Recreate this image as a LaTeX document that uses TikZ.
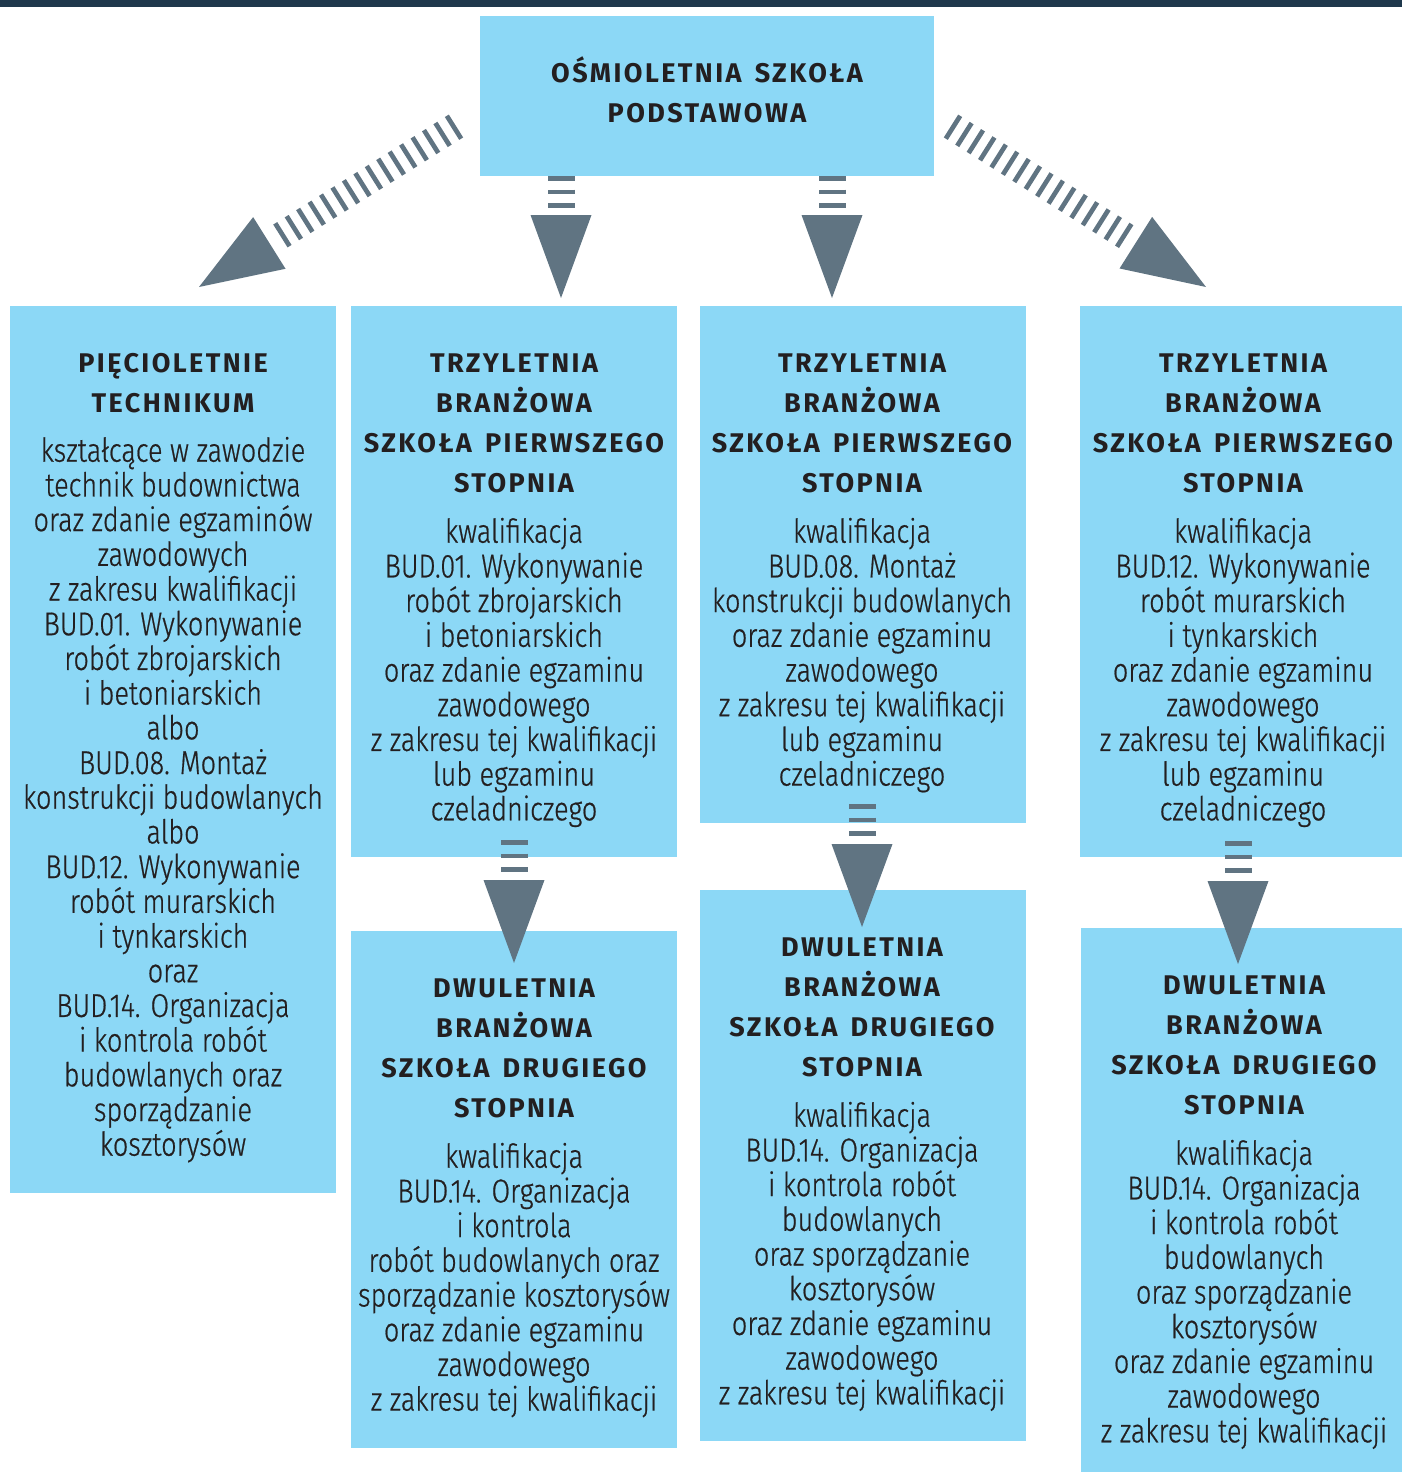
\documentclass[tikz,border=0pt]{standalone}
\usepackage{fontspec}
\usetikzlibrary{calc}
\newfontfamily\bodyf{Fira Sans}[UprightFont=* Light, FakeStretch=0.82, FakeBold=0.6]
\newfontfamily\headf{Fira Sans}[LetterSpace=9, WordSpace=1.5]
\definecolor{boxc}{RGB}{140,216,246}
\definecolor{arrowc}{RGB}{96,116,130}
\definecolor{barc}{RGB}{31,56,76}
\definecolor{txtc}{RGB}{35,31,32}
\newcommand\hst{\rule{0pt}{30pt}}
\newcommand\bst{\rule{0pt}{32pt}}
\newcommand\hatcharrow[2]{%
  \draw[hatch] (#1) -- ($(#2)!90pt!(#1)$);
  \coordinate (hbase) at ($(#2)!83pt!(#1)$);
  \fill[arrowc] (#2) -- ($(hbase)!30.5pt!90:(#2)$) -- ($(hbase)!30.5pt!-90:(#2)$) -- cycle;
}
\tikzset{
  box/.style={fill=boxc, draw=none, inner sep=0, anchor=north west},
  headtxt/.style={anchor=north, inner sep=0, align=center, text=txtc,
    font={\headf\bfseries\fontsize{27}{40}\selectfont\lineskiplimit=-50pt}},
  bodytxt/.style={anchor=north, inner sep=0, align=center, text=txtc,
    font={\bodyf\fontsize{33}{34.7}\selectfont\lineskiplimit=-50pt}},
  hatch/.style={draw=arrowc, line width=27, line cap=butt, dash pattern=on 4.7 off 8.8}
}
\begin{document}
\begin{tikzpicture}[x=1pt, y=-1pt]
\useasboundingbox (0,0) rectangle (1402,1472);
\fill[barc] (0,0) rectangle (1402,7);
% boxes
\node[box, minimum width=454, minimum height=160] (top) at (480,16) {};
\node[box, minimum width=326, minimum height=887] (A) at (10,306) {};
\node[box, minimum width=326, minimum height=551] (B) at (351,306) {};
\node[box, minimum width=326, minimum height=517] (C) at (700,306) {};
\node[box, minimum width=322, minimum height=551] (D) at (1080,306) {};
\node[box, minimum width=326, minimum height=517] (E) at (351,931) {};
\node[box, minimum width=326, minimum height=551] (F) at (700,890) {};
\node[box, minimum width=321, minimum height=544] (G) at (1081,928) {};
% texts
\node[headtxt] (topT) at (707,52.5) {\hst OŚMIOLETNIA SZKOŁA\\PODSTAWOWA};
\node[headtxt] (AH) at (173,342.5) {\hst PIĘCIOLETNIE\\TECHNIKUM};
\node[bodytxt] (AB) at (173,429.5) {\bst kształcące w zawodzie\\technik budownictwa\\oraz zdanie egzaminów\\zawodowych\\z zakresu kwalifikacji\\BUD.01. Wykonywanie\\robót zbrojarskich\\i betoniarskich\\albo\\BUD.08. Montaż\\konstrukcji budowlanych\\albo\\BUD.12. Wykonywanie\\robót murarskich\\i tynkarskich\\oraz\\BUD.14. Organizacja\\i kontrola robót\\budowlanych oraz\\sporządzanie\\kosztorysów};
\node[headtxt] (BH) at (514,342.5) {\hst TRZYLETNIA\\BRANŻOWA\\SZKOŁA PIERWSZEGO\\STOPNIA};
\node[bodytxt] (BB) at (514,510.5) {\bst kwalifikacja\\BUD.01. Wykonywanie\\robót zbrojarskich\\i betoniarskich\\oraz zdanie egzaminu\\zawodowego\\z zakresu tej kwalifikacji\\lub egzaminu\\czeladniczego};
\node[headtxt] (CH) at (862,342.5) {\hst TRZYLETNIA\\BRANŻOWA\\SZKOŁA PIERWSZEGO\\STOPNIA};
\node[bodytxt] (CB) at (862,510.5) {\bst kwalifikacja\\BUD.08. Montaż\\konstrukcji budowlanych\\oraz zdanie egzaminu\\zawodowego\\z zakresu tej kwalifikacji\\lub egzaminu\\czeladniczego};
\node[headtxt] (DH) at (1243,342.5) {\hst TRZYLETNIA\\BRANŻOWA\\SZKOŁA PIERWSZEGO\\STOPNIA};
\node[bodytxt] (DB) at (1243,510.5) {\bst kwalifikacja\\BUD.12. Wykonywanie\\robót murarskich\\i tynkarskich\\oraz zdanie egzaminu\\zawodowego\\z zakresu tej kwalifikacji\\lub egzaminu\\czeladniczego};
\node[headtxt] (EH) at (514,967.5) {\hst DWULETNIA\\BRANŻOWA\\SZKOŁA DRUGIEGO\\STOPNIA};
\node[bodytxt] (EB) at (514,1135.5) {\bst kwalifikacja\\BUD.14. Organizacja\\i kontrola\\robót budowlanych oraz\\sporządzanie kosztorysów\\oraz zdanie egzaminu\\zawodowego\\z zakresu tej kwalifikacji};
\node[headtxt] (FH) at (862,926.5) {\hst DWULETNIA\\BRANŻOWA\\SZKOŁA DRUGIEGO\\STOPNIA};
\node[bodytxt] (FB) at (862,1094.5) {\bst kwalifikacja\\BUD.14. Organizacja\\i kontrola robót\\budowlanych\\oraz sporządzanie\\kosztorysów\\oraz zdanie egzaminu\\zawodowego\\z zakresu tej kwalifikacji};
\node[headtxt] (GH) at (1244,964.5) {\hst DWULETNIA\\BRANŻOWA\\SZKOŁA DRUGIEGO\\STOPNIA};
\node[bodytxt] (GB) at (1244,1132.5) {\bst kwalifikacja\\BUD.14. Organizacja\\i kontrola robót\\budowlanych\\oraz sporządzanie\\kosztorysów\\oraz zdanie egzaminu\\zawodowego\\z zakresu tej kwalifikacji};
% arrows
\coordinate (aLs) at (456,126);  \coordinate (aLt) at (199,287);
\coordinate (aRs) at (951,126);  \coordinate (aRt) at (1206,287);
\coordinate (a1s) at (561,176);  \coordinate (a1t) at (561,298);
\coordinate (a2s) at (832,176);  \coordinate (a2t) at (832,298);
\coordinate (aBs) at (514,840);  \coordinate (aBt) at (514,963);
\coordinate (aCs) at (862,804);  \coordinate (aCt) at (862,927);
\coordinate (aDs) at (1238,841); \coordinate (aDt) at (1238,964);
\hatcharrow{aLs}{aLt}
\hatcharrow{aRs}{aRt}
\hatcharrow{a1s}{a1t}
\hatcharrow{a2s}{a2t}
\hatcharrow{aBs}{aBt}
\hatcharrow{aCs}{aCt}
\hatcharrow{aDs}{aDt}
\end{tikzpicture}
\end{document}
